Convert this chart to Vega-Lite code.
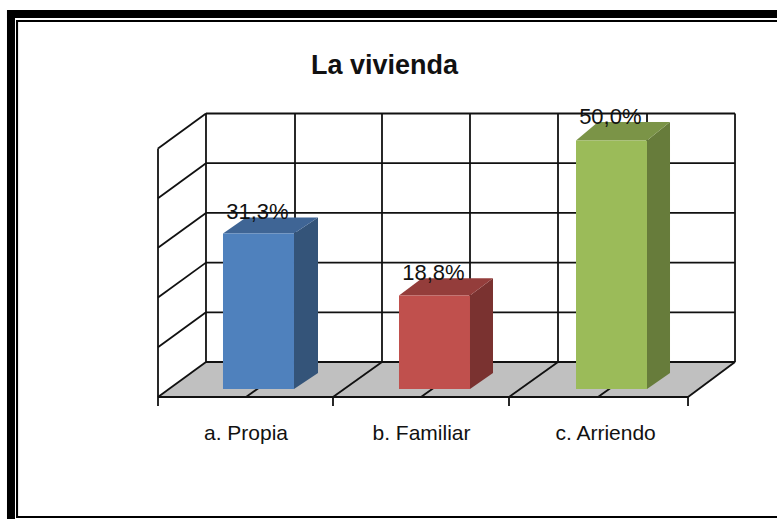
{
"$schema":"https://vega.github.io/schema/vega-lite/v6.json",
"width":777,"height":519,"padding":0,"autosize":{"type":"none"},
"background":"white",
"view":{"stroke":null},
"datasets":{
"frame":[
{"x":-85.8,"x2":-81.25,"y":76.26,"y2":-26.16},
{"x":-80.68,"x2":-79.5,"y":74.25,"y2":-25.96},
{"x":-85.8,"x2":351.7,"y":76.26,"y2":74.65},
{"x":-80.68,"x2":351.7,"y":74.25,"y2":73.84},
{"x":-80.68,"x2":351.7,"y":-25.55,"y2":-25.96}
],
"floor":[
{"y":-1.61,"x":0,"x2":301.14},
{"y":5.43,"x":27.27,"x2":327.84}
],
"grid":[
{"x":27.27,"y":5.43,"x2":327.84,"y2":5.43},
{"x":27.27,"y":15.43,"x2":327.84,"y2":15.43},
{"x":27.27,"y":25.43,"x2":327.84,"y2":25.43},
{"x":27.27,"y":35.43,"x2":327.84,"y2":35.43},
{"x":27.27,"y":45.43,"x2":327.84,"y2":45.43},
{"x":27.27,"y":55.43,"x2":327.84,"y2":55.43},
{"x":27.27,"y":5.43,"x2":27.27,"y2":55.43},
{"x":77.84,"y":5.43,"x2":77.84,"y2":55.43},
{"x":127.27,"y":5.43,"x2":127.27,"y2":55.43},
{"x":177.27,"y":5.43,"x2":177.27,"y2":55.43},
{"x":227.27,"y":5.43,"x2":227.27,"y2":55.43},
{"x":277.84,"y":5.43,"x2":277.84,"y2":55.43},
{"x":327.84,"y":5.43,"x2":327.84,"y2":55.43},
{"x":0,"y":-3.42,"x2":0,"y2":48.4},
{"x":0,"y":-1.61,"x2":27.27,"y2":5.43},
{"x":0,"y":8.4,"x2":27.27,"y2":15.43},
{"x":0,"y":18.4,"x2":27.27,"y2":25.43},
{"x":0,"y":28.4,"x2":27.27,"y2":35.43},
{"x":0,"y":38.4,"x2":27.27,"y2":45.43},
{"x":0,"y":48.4,"x2":27.27,"y2":55.43},
{"x":50,"y":-1.61,"x2":77.84,"y2":5.43},
{"x":99.43,"y":-1.61,"x2":127.27,"y2":5.43},
{"x":149.43,"y":-1.61,"x2":177.27,"y2":5.43},
{"x":199.43,"y":-1.61,"x2":227.27,"y2":5.43},
{"x":250,"y":-1.61,"x2":277.84,"y2":5.43},
{"x":301.14,"y":-1.61,"x2":327.84,"y2":5.43},
{"x":0,"y":-1.61,"x2":301.14,"y2":-1.61},
{"x":99.43,"y":-3.42,"x2":99.43,"y2":-1.61},
{"x":199.43,"y":-3.42,"x2":199.43,"y2":-1.61},
{"x":301.14,"y":-3.42,"x2":301.14,"y2":-1.61}
],
"front":[
{"cat":"a. Propia","value":31.3,"x":36.93,"x2":77.27,"base":0},
{"cat":"b. Familiar","value":18.8,"x":136.93,"x2":177.27,"base":0},
{"cat":"c. Arriendo","value":50.0,"x":237.5,"x2":277.84,"base":0}
],
"side":[
{"cat":"a. Propia","x":77.27,"low":0,"high":31.3},
{"cat":"a. Propia","x":90.91,"low":3.22,"high":34.5},
{"cat":"b. Familiar","x":177.27,"low":0,"high":18.8},
{"cat":"b. Familiar","x":190.34,"low":3.22,"high":22.3},
{"cat":"c. Arriendo","x":277.84,"low":0,"high":50.0},
{"cat":"c. Arriendo","x":290.91,"low":3.22,"high":53.7}
],
"top":[
{"cat":"a. Propia","y":31.3,"x":36.93,"x2":77.27},
{"cat":"a. Propia","y":34.5,"x":50,"x2":90.91},
{"cat":"b. Familiar","y":18.8,"x":136.93,"x2":177.27},
{"cat":"b. Familiar","y":22.3,"x":150,"x2":190.34},
{"cat":"c. Arriendo","y":50.0,"x":237.5,"x2":277.84},
{"cat":"c. Arriendo","y":53.7,"x":250,"x2":290.91}
],
"labels":[
{"label":"31,3%","x":56.5,"y":34.2},
{"label":"18,8%","x":156.5,"y":21.9},
{"label":"50,0%","x":257,"y":53.3}
],
"cats":[
{"label":"a. Propia","x":50,"y":-10.3},
{"label":"b. Familiar","x":149.7,"y":-10.3},
{"label":"c. Arriendo","x":254.3,"y":-10.3}
],
"title":[{"label":"La vivienda","x":128.7,"y":63.4}]
},
"encoding":{
"x":{"field":"x","type":"quantitative","scale":{"domain":[-89.77,351.7],"nice":false,"zero":false},"axis":null},
"y":{"field":"y","type":"quantitative","scale":{"domain":[-26.16,78.27],"nice":false,"zero":false},"axis":null}
},
"resolve":{"scale":{"color":"independent"}},
"layer":[
{"data":{"name":"frame"},"mark":{"type":"rect","fill":"black"},"encoding":{"x2":{"field":"x2"},"y2":{"field":"y2"}}},
{"data":{"name":"floor"},"mark":{"type":"area","orient":"horizontal","fill":"#c0c0c0"},"encoding":{"x2":{"field":"x2"}}},
{"data":{"name":"grid"},"mark":{"type":"rule","stroke":"#111111","strokeWidth":1.8},"encoding":{"x2":{"field":"x2"},"y2":{"field":"y2"}}},
{"data":{"name":"side"},"mark":{"type":"area"},"encoding":{"y":{"field":"low","type":"quantitative"},"y2":{"field":"high"},"color":{"field":"cat","type":"nominal","legend":null,"scale":{"domain":["a. Propia","b. Familiar","c. Arriendo"],"range":["#345479","#7A3230","#677C3B"]}}}},
{"data":{"name":"top"},"mark":{"type":"area","orient":"horizontal"},"encoding":{"x2":{"field":"x2"},"color":{"field":"cat","type":"nominal","legend":null,"scale":{"domain":["a. Propia","b. Familiar","c. Arriendo"],"range":["#3F6595","#943D3B","#7B9447"]}}}},
{"data":{"name":"front"},"mark":{"type":"rect"},"encoding":{"x2":{"field":"x2"},"y":{"field":"base","type":"quantitative"},"y2":{"field":"value"},"color":{"field":"cat","type":"nominal","legend":null,"scale":{"domain":["a. Propia","b. Familiar","c. Arriendo"],"range":["#4F81BD","#C0504D","#9BBB59"]}}}},
{"data":{"name":"labels"},"mark":{"type":"text","font":"Liberation Sans","fontSize":22,"fill":"#111111","baseline":"alphabetic","align":"center"},"encoding":{"text":{"field":"label"}}},
{"data":{"name":"cats"},"mark":{"type":"text","font":"Liberation Sans","fontSize":21,"fill":"#111111","baseline":"alphabetic","align":"center"},"encoding":{"text":{"field":"label"}}},
{"data":{"name":"title"},"mark":{"type":"text","font":"Liberation Sans","fontSize":27,"fontWeight":"bold","fill":"#111111","baseline":"alphabetic","align":"center"},"encoding":{"text":{"field":"label"}}}
]
}
